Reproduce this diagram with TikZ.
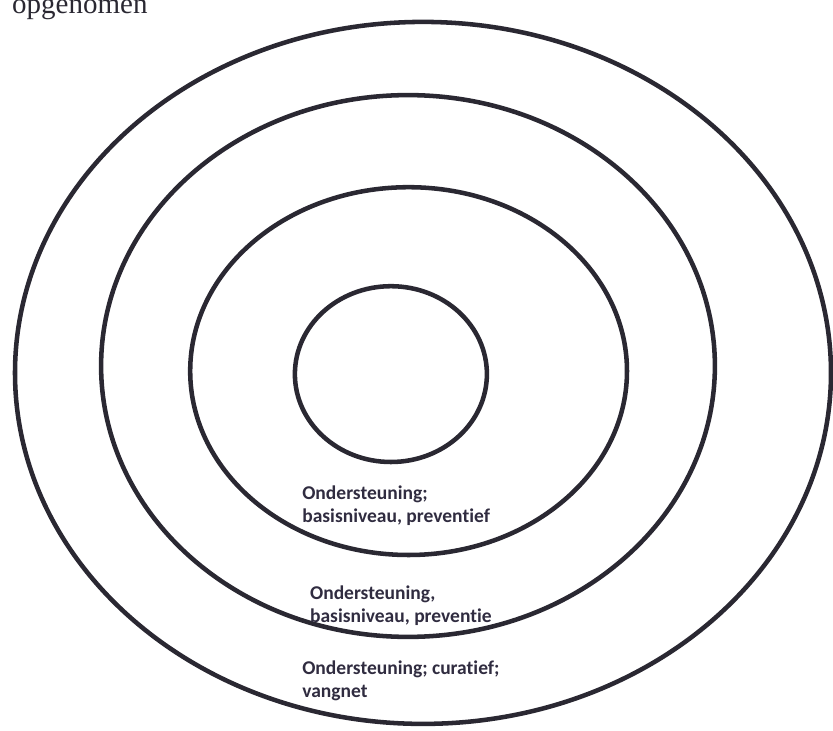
\documentclass[tikz,border=0pt]{standalone}
\usepackage{xcolor}
\usepackage{fontspec}
\usepackage{tikz}
\setmainfont{Liberation Serif}
\newfontfamily\ringfont[Ligatures=NoCommon]{Carlito}

\definecolor{ringcol}{RGB}{42,40,50}
\definecolor{labcol}{RGB}{48,44,64}

\tikzset{
  ring/.style={ringcol, line width=4.3pt},
  ringlabel/.style={labcol, anchor=north west, inner sep=0pt, align=left,
    font=\ringfont\bfseries\fontsize{18.5}{21.8}\selectfont}
}

\begin{document}
\begin{tikzpicture}
    \useasboundingbox (0,0) rectangle (27.767,-24.367);
    \clip (0,0) rectangle (27.767,-24.367);
    \node [ringcol, anchor=base west, inner sep=0pt, font=\fontsize{27.5}{30}\selectfont] (title) at (0.4,-0.45) {opgenomen};
     \draw[ring] (14.10,-12.43) ellipse (13.60 and 11.70);
     \draw[ring] (13.60,-12.20) ellipse (10.23 and 9.03);
     \draw[ring] (13.62,-12.37) ellipse (7.28 and 6.13);
     \draw[ring] (13.03,-12.47) ellipse (3.20 and 2.93);
  % labels of the rings
      \node [ringlabel] (basis) at (10.07,-16.2) {Ondersteuning;\\basisniveau, preventief};
      \node [ringlabel] (preventie) at (10.33,-19.53) {Ondersteuning,\\basisniveau, preventie};
      \node [ringlabel] (vangnet) at (10.07,-22.03) {Ondersteuning; curatief;\\vangnet};
\end{tikzpicture}
\end{document}
